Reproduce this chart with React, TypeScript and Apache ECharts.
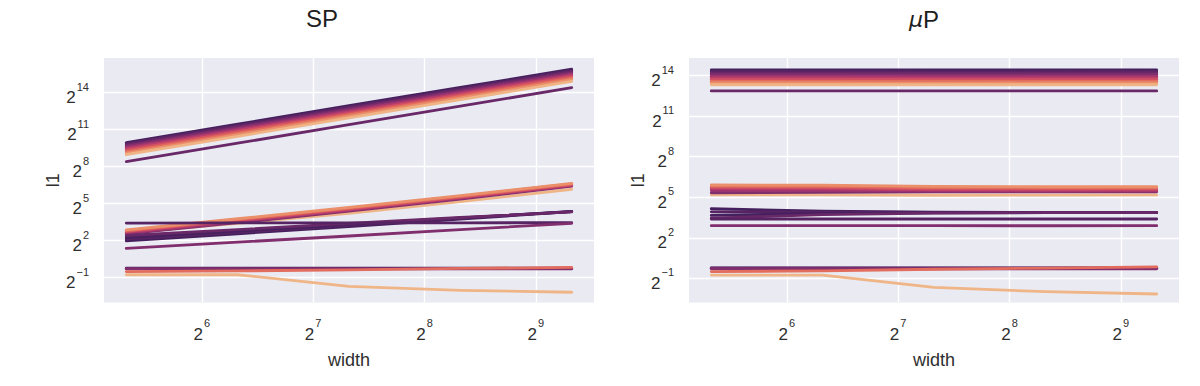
import React, { useEffect, useRef } from "react";
import * as echarts from "echarts";

// ---------- data (log2 of l1) ----------
const widths = [40, 80, 160, 320, 640];
const xTicks = [64, 128, 256, 512];
const yTicks = [0.5, 4, 32, 256, 2048, 16384];

// colours from dark purple to light peach
const palette = [
  "#45205e", "#562363", "#692868", "#802e6d", "#9c346f",
  "#ba3e6b", "#d35063", "#e26c5d", "#ea8f6a", "#efb587",
];

// top group (hue index per line)
const topHue = [0, 1, 2, 3, 4, 5, 6, 7, 8, 9, 2];
const spTop = [
  [9.95, 11.45, 12.94, 14.42, 15.9],
  [9.86, 11.35, 12.84, 14.32, 15.8],
  [9.76, 11.25, 12.74, 14.22, 15.71],
  [9.66, 11.15, 12.64, 14.12, 15.61],
  [9.56, 11.05, 12.54, 14.02, 15.5],
  [9.46, 10.95, 12.44, 13.92, 15.4],
  [9.35, 10.84, 12.33, 13.82, 15.3],
  [9.23, 10.72, 12.21, 13.7, 15.18],
  [9.1, 10.6, 12.09, 13.57, 15.05],
  [8.97, 10.46, 11.95, 13.43, 14.92],
  [8.41, 9.9, 11.4, 12.9, 14.41],
];
const muTop = [
  [14.43, 14.43, 14.42, 14.43, 14.43],
  [14.31, 14.31, 14.3, 14.31, 14.31],
  [14.19, 14.19, 14.19, 14.19, 14.2],
  [14.07, 14.07, 14.06, 14.07, 14.07],
  [13.95, 13.95, 13.95, 13.95, 13.95],
  [13.83, 13.83, 13.82, 13.83, 13.83],
  [13.71, 13.71, 13.71, 13.71, 13.71],
  [13.58, 13.58, 13.58, 13.58, 13.58],
  [13.46, 13.46, 13.45, 13.46, 13.46],
  [13.33, 13.33, 13.33, 13.33, 13.33],
  [12.87, 12.87, 12.87, 12.87, 12.87],
];

// middle group
const midHue = [9, 3, 4, 5, 6, 7, 8, 0, 1, 0, 2, 1, 3];
const spMid = [
  [2.65, 3.4, 4.22, 5.16, 6.17],
  [2.55, 3.46, 4.4, 5.38, 6.42],
  [2.62, 3.53, 4.46, 5.44, 6.46],
  [2.7, 3.6, 4.52, 5.49, 6.5],
  [2.76, 3.66, 4.58, 5.54, 6.55],
  [2.82, 3.72, 4.64, 5.6, 6.6],
  [2.87, 3.78, 4.7, 5.66, 6.64],
  [1.98, 2.56, 3.15, 3.75, 4.35],
  [2.12, 2.68, 3.25, 3.82, 4.38],
  [2.28, 2.8, 3.33, 3.85, 4.36],
  [2.42, 2.9, 3.4, 3.88, 4.33],
  [3.43, 3.44, 3.45, 3.45, 3.46],
  [1.38, 1.88, 2.38, 2.9, 3.41],
];
const muMid = [
  [5.17, 5.17, 5.15, 5.16, 5.17],
  [5.33, 5.36, 5.4, 5.41, 5.41],
  [5.5, 5.49, 5.47, 5.46, 5.47],
  [5.64, 5.62, 5.55, 5.53, 5.54],
  [5.74, 5.72, 5.63, 5.61, 5.62],
  [5.82, 5.81, 5.71, 5.69, 5.69],
  [5.91, 5.9, 5.8, 5.78, 5.78],
  [4.15, 3.98, 3.9, 3.87, 3.86],
  [3.92, 3.9, 3.88, 3.86, 3.86],
  [3.66, 3.8, 3.85, 3.86, 3.87],
  [3.45, 3.72, 3.83, 3.86, 3.86],
  [3.39, 3.39, 3.39, 3.39, 3.39],
  [2.9, 2.9, 2.9, 2.89, 2.9],
];

// bottom group
const lowHue = [0, 2, 3, 7, 9];
const spLow = [
  [-0.22, -0.22, -0.22, -0.22, -0.22],
  [-0.25, -0.25, -0.25, -0.25, -0.25],
  [-0.29, -0.29, -0.29, -0.29, -0.29],
  [-0.5, -0.45, -0.36, -0.25, -0.17],
  [-0.76, -0.76, -1.7, -2.02, -2.18],
];
const muLow = [
  [-0.22, -0.22, -0.22, -0.22, -0.22],
  [-0.25, -0.25, -0.25, -0.25, -0.25],
  [-0.29, -0.29, -0.29, -0.29, -0.29],
  [-0.5, -0.45, -0.33, -0.24, -0.15],
  [-0.76, -0.76, -1.67, -1.99, -2.16],
];

// ---------- styling ----------
const FONT = "'Liberation Sans', Arial, Helvetica, sans-serif";
const TXT = "#2e2e2e";
const BG = "#EAEAF2";

function powLabel(v: number) {
  const e = Math.round(Math.log2(v));
  const s = e < 0 ? "\u2212" + Math.abs(e) : String(e);
  return `{b|2}{s|${s}}`;
}
const rich = {
  b: { fontSize: 17, fontFamily: FONT, color: TXT, padding: [10, 0, 0, 0], verticalAlign: "bottom" },
  s: { fontSize: 11, fontFamily: FONT, color: TXT, padding: [2, 0, 0, 1], verticalAlign: "top" },
};

function makeSeries(groups: { vals: number[][]; hues: number[] }[], axis: number) {
  const out: any[] = [];
  groups.forEach((g) => {
    g.vals.forEach((line, i) => {
      out.push({
        type: "line",
        xAxisIndex: axis,
        yAxisIndex: axis,
        showSymbol: false,
        symbol: "none",
        silent: true,
        data: widths.map((w, k) => [w, Math.pow(2, line[k])]),
        lineStyle: { color: palette[g.hues[i]], width: 2.8, cap: "round", join: "round" },
      });
    });
  });
  return out;
}

function xAxisOpt(idx: number) {
  return {
    type: "log",
    logBase: 2,
    gridIndex: idx,
    min: Math.pow(2, 5.122),
    max: Math.pow(2, 9.522),
    name: "width",
    nameLocation: "middle",
    nameGap: 48,
    nameTextStyle: { fontFamily: FONT, fontSize: 18, color: TXT },
    axisLine: { show: false },
    axisTick: { show: false, customValues: xTicks },
    axisLabel: { customValues: xTicks, formatter: powLabel, rich, margin: 13 },
    splitLine: { show: true, lineStyle: { color: "#ffffff", width: 1.4 } },
  };
}

function yAxisOpt(idx: number, lo: number, hi: number) {
  return {
    type: "log",
    logBase: 2,
    gridIndex: idx,
    min: Math.pow(2, lo),
    max: Math.pow(2, hi),
    name: "l1",
    nameLocation: "middle",
    nameGap: 37,
    nameRotate: 90,
    nameTextStyle: { fontFamily: FONT, fontSize: 18, color: TXT },
    axisLine: { show: false },
    axisTick: { show: false, customValues: yTicks },
    axisLabel: { customValues: yTicks, formatter: powLabel, rich, margin: 15 },
    splitLine: { show: true, lineStyle: { color: "#ffffff", width: 1.4 } },
  };
}

export default function App() {
  const ref = useRef<HTMLDivElement>(null);
  useEffect(() => {
    if (!ref.current) return;
    const chart = echarts.init(ref.current, null, { renderer: "svg" });
    chart.setOption({
      animation: false,
      backgroundColor: "#ffffff",
      grid: [
        { left: 104, top: 58, width: 490, height: 244.5, show: true, backgroundColor: BG, borderWidth: 0 },
        { left: 689, top: 58, width: 490, height: 244.5, show: true, backgroundColor: BG, borderWidth: 0 },
      ],
      xAxis: [xAxisOpt(0), xAxisOpt(1)],
      yAxis: [yAxisOpt(0, -3.01, 16.81), yAxisOpt(1, -2.79, 15.31)],
      graphic: [
        {
          type: "text",
          x: 322,
          y: 18,
          style: { text: "SP", font: `24px ${FONT}`, fill: "#1e1e1e", align: "center", verticalAlign: "middle" },
        },
        {
          type: "text",
          x: 924,
          y: 19,
          style: {
            text: "{m|\u03bc}{p|P}",
            align: "center",
            verticalAlign: "middle",
            rich: {
              m: { fontFamily: "'DejaVu Sans', sans-serif", fontStyle: "italic", fontSize: 22, fill: "#1e1e1e" },
              p: { fontFamily: FONT, fontSize: 24, fill: "#1e1e1e" },
            },
          },
        },
      ],
      series: [
        ...makeSeries(
          [
            { vals: spTop, hues: topHue },
            { vals: spMid, hues: midHue },
            { vals: spLow, hues: lowHue },
          ],
          0
        ),
        ...makeSeries(
          [
            { vals: muTop, hues: topHue },
            { vals: muMid, hues: midHue },
            { vals: muLow, hues: lowHue },
          ],
          1
        ),
      ],
    });
    return () => chart.dispose();
  }, []);
  return <div ref={ref} style={{ position: "fixed", left: 0, top: 0, width: 1200, height: 386 }} />;
}
